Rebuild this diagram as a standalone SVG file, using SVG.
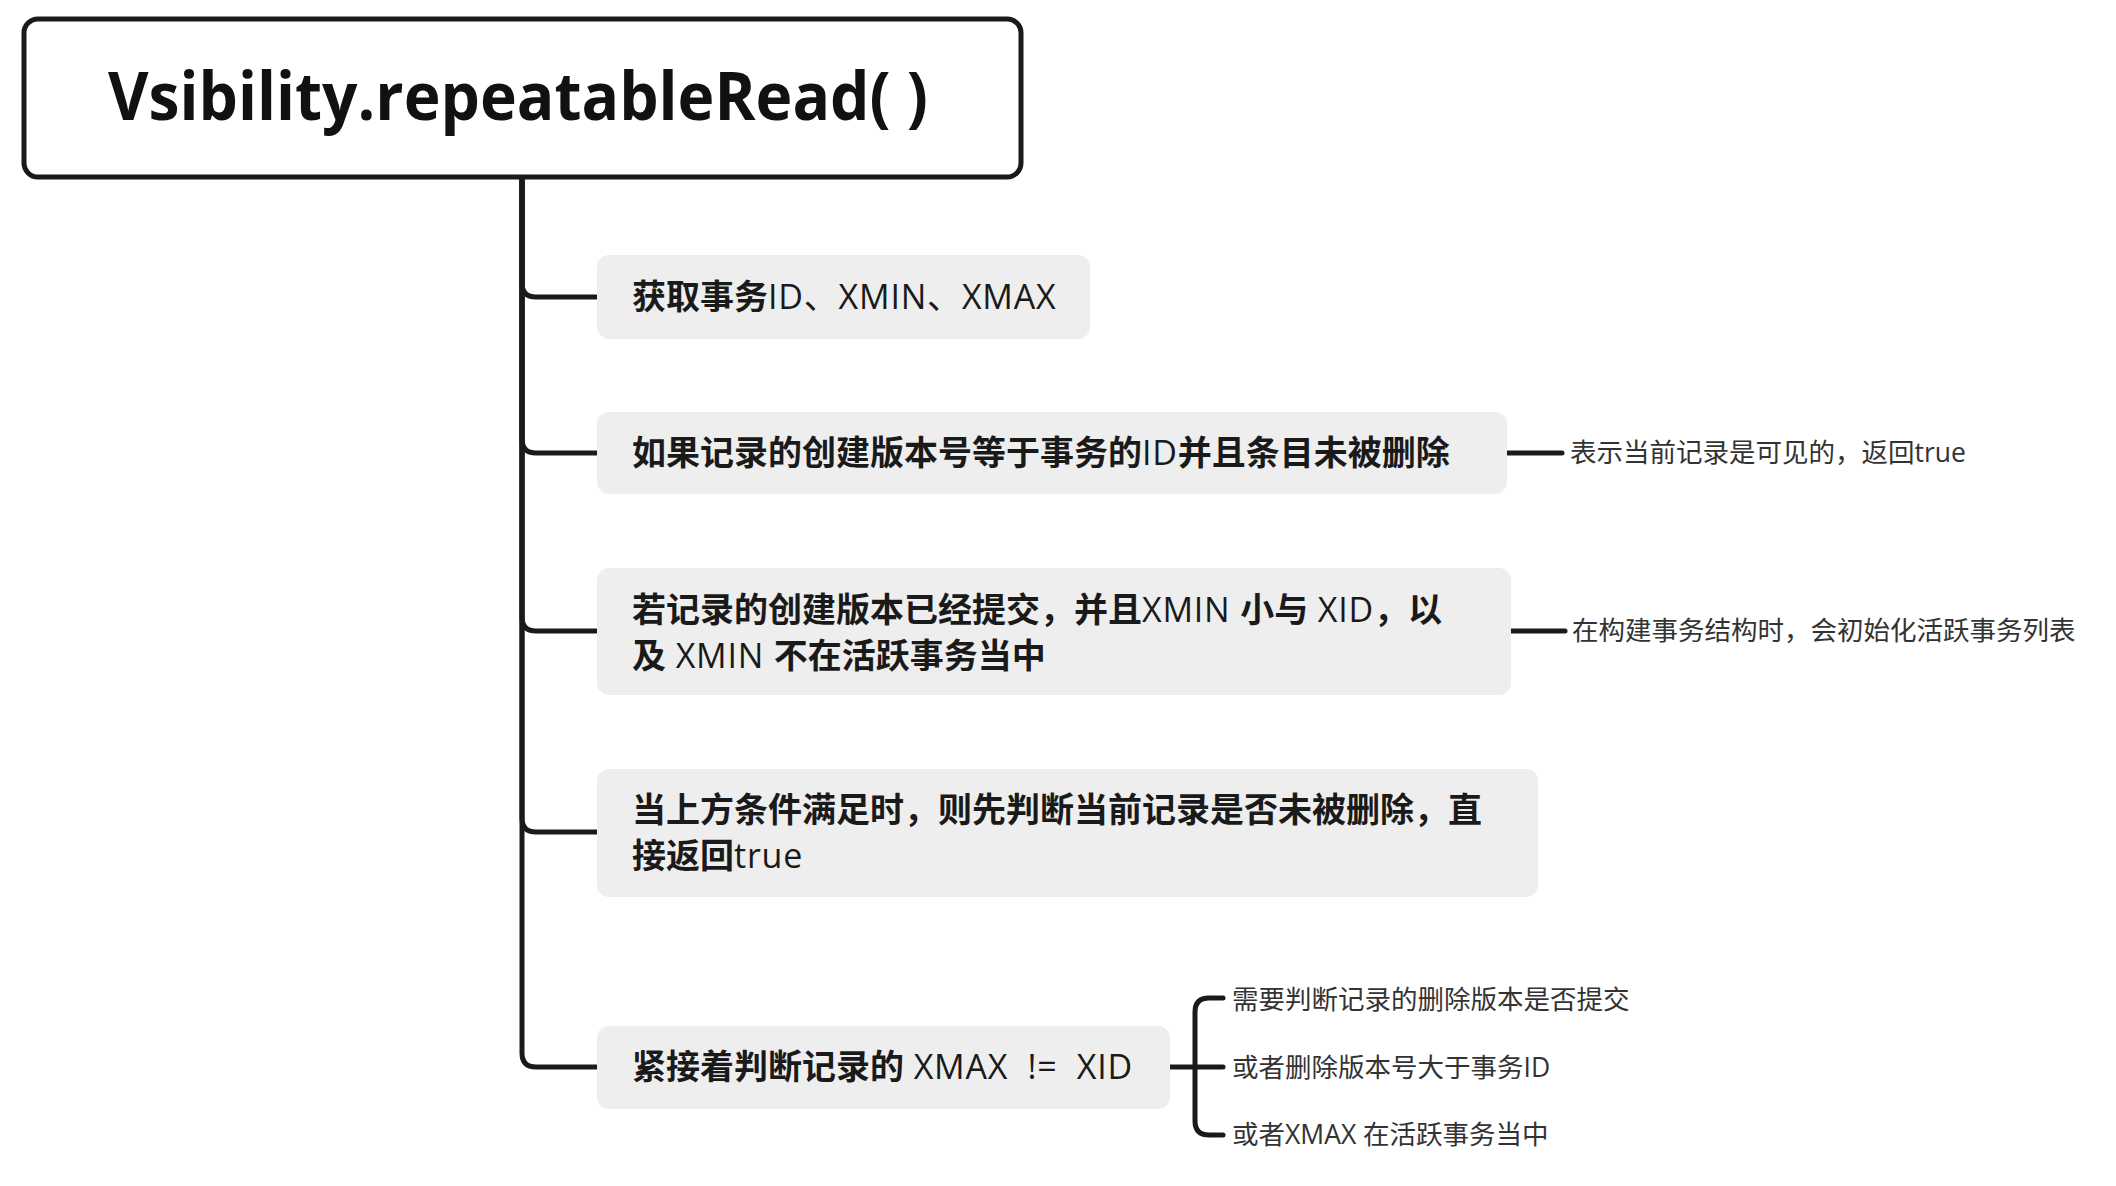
<svg xmlns="http://www.w3.org/2000/svg" width="2116" height="1186" viewBox="0 0 2116 1186">
<style>
.title{font-family:"Open Sans","Noto Sans CJK SC",sans-serif;font-size:66px;font-weight:bold;fill:#111}
.nt{font-family:"Open Sans","Noto Sans CJK SC",sans-serif;font-size:34px;fill:#1a1a1a;white-space:pre}
.b{font-weight:bold}
.r{font-weight:normal;letter-spacing:0.8px}
.lb{font-family:"Open Sans","Noto Sans CJK SC",sans-serif;font-size:26.5px;fill:#333;white-space:pre}
.box{fill:#eeeeee}
.ln{fill:none;stroke:#1a1a1a;stroke-width:5;stroke-linecap:round;stroke-linejoin:round}
</style>
<rect width="2116" height="1186" fill="#ffffff"/>
<g id="connectors">
<path class="ln" d="M522,177 V283 Q522,297 536,297 H597"/>
<path class="ln" d="M522,177 V439 Q522,453 536,453 H597"/>
<path class="ln" d="M522,177 V617 Q522,631 536,631 H597"/>
<path class="ln" d="M522,177 V818 Q522,832 536,832 H597"/>
<path class="ln" d="M522,177 V1053 Q522,1067 536,1067 H597"/>
<path class="ln" d="M1507,453 H1562"/>
<path class="ln" d="M1511,631 H1565"/>
<path class="ln" d="M1170,1067 H1223"/>
<path class="ln" d="M1223,998 H1209 Q1195,998 1195,1012 V1121 Q1195,1135 1209,1135 H1223"/>
</g>
<g id="root">
<rect x="24" y="19" width="997" height="158" rx="14" fill="#ffffff" stroke="#1a1a1a" stroke-width="5"/>
<text class="title" x="108" y="120" textLength="820" lengthAdjust="spacingAndGlyphs">Vsibility.repeatableRead( )</text>
</g>
<g id="node1">
<rect class="box" x="597" y="255" width="493" height="84" rx="12"/>
<text class="nt" x="632" y="309"><tspan class="b">获取事务</tspan><tspan class="r">ID、XMIN、XMAX</tspan></text>
</g>
<g id="node2">
<rect class="box" x="597" y="412" width="910" height="82" rx="12"/>
<text class="nt" x="632" y="465"><tspan class="b">如果记录的创建版本号等于事务的</tspan><tspan class="r">ID</tspan><tspan class="b">并且条目未被删除</tspan></text>
</g>
<g id="label2">
<text class="lb" x="1570" y="462">表示当前记录是可见的，返回true</text>
</g>
<g id="node3">
<rect class="box" x="597" y="568" width="914" height="127" rx="12"/>
<text class="nt" x="632" y="622"><tspan class="b">若记录的创建版本已经提交，并且</tspan><tspan class="r">XMIN </tspan><tspan class="b">小与</tspan><tspan class="r"> XID</tspan><tspan class="b">，以</tspan></text>
<text class="nt" x="632" y="668"><tspan class="b">及</tspan><tspan class="r"> XMIN </tspan><tspan class="b">不在活跃事务当中</tspan></text>
</g>
<g id="label3">
<text class="lb" x="1572" y="640">在构建事务结构时，会初始化活跃事务列表</text>
</g>
<g id="node4">
<rect class="box" x="597" y="769" width="941" height="128" rx="12"/>
<text class="nt b" x="632" y="822">当上方条件满足时，则先判断当前记录是否未被删除，直</text>
<text class="nt" x="632" y="868"><tspan class="b">接返回</tspan><tspan class="r">true</tspan></text>
</g>
<g id="node5">
<rect class="box" x="597" y="1026" width="573" height="83" rx="12"/>
<text class="nt" x="632" y="1079"><tspan class="b">紧接着判断记录的</tspan><tspan class="r"> XMAX  !=  XID</tspan></text>
</g>
<g id="label5a">
<text class="lb" x="1232" y="1009">需要判断记录的删除版本是否提交</text>
</g>
<g id="label5b">
<text class="lb" x="1232" y="1077">或者删除版本号大于事务ID</text>
</g>
<g id="label5c">
<text class="lb" x="1232" y="1144">或者XMAX 在活跃事务当中</text>
</g>
</svg>
